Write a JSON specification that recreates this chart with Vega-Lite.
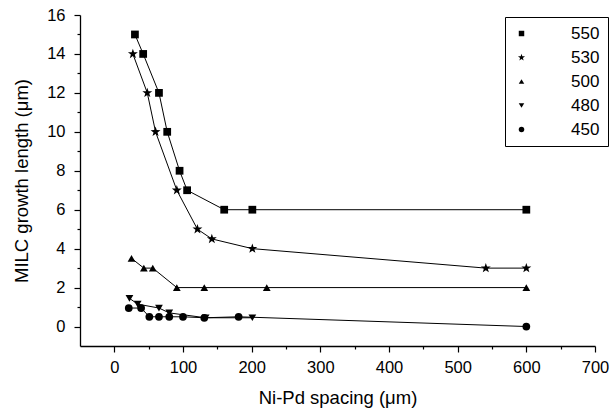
{
  "$schema": "https://vega.github.io/schema/vega-lite/v6.json",
  "width": 515,
  "height": 331,
  "autosize": {"type": "none"},
  "padding": {"left": 80, "top": 15, "right": 19, "bottom": 74},
  "background": "white",
  "config": {
    "view": {"stroke": null},
    "font": "Liberation Sans",
    "axis": {
      "domainColor": "black",
      "domainWidth": 1.3,
      "tickColor": "black",
      "tickWidth": 1.2,
      "grid": false,
      "labelFont": "Liberation Sans",
      "labelFontSize": 16.5,
      "labelColor": "black",
      "titleFont": "Liberation Sans",
      "titleFontSize": 18.5,
      "titleFontWeight": "normal",
      "titleColor": "black"
    }
  },
  "data": {
    "values": [
      {"series": "550", "spacing": 30, "length": 15},
      {"series": "550", "spacing": 42, "length": 14},
      {"series": "550", "spacing": 65, "length": 12},
      {"series": "550", "spacing": 77, "length": 10},
      {"series": "550", "spacing": 95, "length": 8},
      {"series": "550", "spacing": 106, "length": 7},
      {"series": "550", "spacing": 160, "length": 6},
      {"series": "550", "spacing": 201, "length": 6},
      {"series": "550", "spacing": 600, "length": 6},
      {"series": "530", "spacing": 27, "length": 14},
      {"series": "530", "spacing": 48, "length": 12},
      {"series": "530", "spacing": 60, "length": 10},
      {"series": "530", "spacing": 91, "length": 7},
      {"series": "530", "spacing": 121, "length": 5},
      {"series": "530", "spacing": 142, "length": 4.5},
      {"series": "530", "spacing": 201, "length": 4},
      {"series": "530", "spacing": 541, "length": 3},
      {"series": "530", "spacing": 600, "length": 3},
      {"series": "500", "spacing": 25, "length": 3.5},
      {"series": "500", "spacing": 43, "length": 3},
      {"series": "500", "spacing": 56, "length": 3},
      {"series": "500", "spacing": 91, "length": 2},
      {"series": "500", "spacing": 131, "length": 2},
      {"series": "500", "spacing": 222, "length": 2},
      {"series": "500", "spacing": 600, "length": 2},
      {"series": "480", "spacing": 22, "length": 1.45},
      {"series": "480", "spacing": 34, "length": 1.15},
      {"series": "480", "spacing": 65, "length": 0.95},
      {"series": "480", "spacing": 80, "length": 0.7},
      {"series": "480", "spacing": 133, "length": 0.45},
      {"series": "480", "spacing": 201, "length": 0.45},
      {"series": "450", "spacing": 21, "length": 0.95},
      {"series": "450", "spacing": 39, "length": 0.95},
      {"series": "450", "spacing": 51, "length": 0.5},
      {"series": "450", "spacing": 65, "length": 0.5},
      {"series": "450", "spacing": 80, "length": 0.5},
      {"series": "450", "spacing": 100, "length": 0.5},
      {"series": "450", "spacing": 131, "length": 0.45},
      {"series": "450", "spacing": 181, "length": 0.5},
      {"series": "450", "spacing": 600, "length": 0}
    ]
  },
  "encoding": {
    "x": {
      "field": "spacing",
      "type": "quantitative",
      "scale": {"domain": [-50, 700], "nice": false, "zero": false},
      "axis": {
        "title": "Ni-Pd spacing (μm)",
        "values": [0, 50, 100, 150, 200, 250, 300, 350, 400, 450, 500, 550, 600, 650, 700],
        "labelExpr": "datum.value % 100 == 0 ? datum.label : ''",
        "tickSize": {"condition": {"test": "datum.value % 100 == 0", "value": 6}, "value": 3},
        "labelPadding": 7,
        "titlePadding": 13,
        "labelFlush": false,
        "labelOverlap": false
      }
    },
    "y": {
      "field": "length",
      "type": "quantitative",
      "scale": {"domain": [-1, 16], "nice": false, "zero": false},
      "axis": {
        "title": "MILC growth length (μm)",
        "values": [0, 1, 2, 3, 4, 5, 6, 7, 8, 9, 10, 11, 12, 13, 14, 15, 16],
        "labelExpr": "datum.value % 2 == 0 ? datum.label : ''",
        "tickSize": {"condition": {"test": "datum.value % 2 == 0", "value": 6}, "value": 3},
        "labelPadding": 9,
        "titlePadding": 15,
        "labelFlush": false,
        "labelOverlap": false
      }
    }
  },
  "layer": [
    {
      "mark": {"type": "line", "color": "black", "strokeWidth": 1},
      "encoding": {"detail": {"field": "series", "type": "nominal"}}
    },
    {
      "mark": {"type": "point", "filled": true, "fill": "black", "opacity": 1, "size": 60},
      "encoding": {
        "shape": {
          "field": "series",
          "type": "nominal",
          "scale": {
            "domain": ["550", "530", "500", "480", "450"],
            "range": [
              "square",
              "M0,-1.35L0.31,-0.44L1.28,-0.42L0.51,0.17L0.79,1.09L0,0.54L-0.79,1.09L-0.51,0.17L-1.28,-0.42L-0.31,-0.44Z",
              "triangle-up",
              "triangle-down",
              "circle"
            ]
          },
          "legend": {
            "title": null,
            "orient": "none",
            "legendX": 425,
            "legendY": 2,
            "padding": 8,
            "strokeColor": "black",
            "fillColor": "white",
            "labelFont": "Liberation Sans",
            "labelFontSize": 17,
            "labelColor": "black",
            "labelOffset": 41,
            "rowPadding": 6,
            "symbolSize": 30,
            "symbolOpacity": 1
          }
        }
      }
    }
  ]
}
